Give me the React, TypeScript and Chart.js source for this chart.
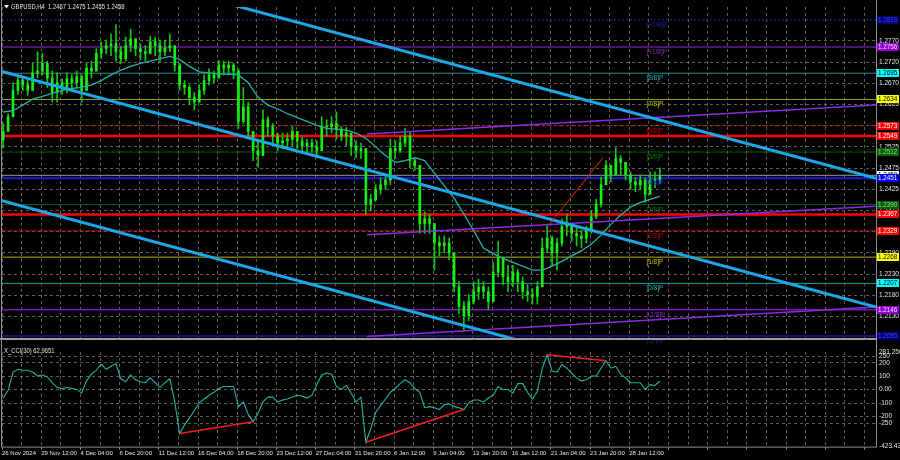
import React, { useEffect, useRef } from "react";
import { Chart, registerables } from "chart.js";

Chart.register(...registerables);

// ---------------- data ----------------
const timeLabels = ["26 Nov 2024", "29 Nov 12:00", "4 Dec 04:00", "6 Dec 20:00", "11 Dec 12:00", "16 Dec 04:00", "18 Dec 20:00", "23 Dec 12:00", "27 Dec 04:00", "31 Dec 20:00", "6 Jan 12:00", "9 Jan 04:00", "13 Jan 20:00", "16 Jan 12:00", "21 Jan 04:00", "23 Jan 20:00", "28 Jan 12:00"];

const headerText = "GBPUSD,H4  1.2467 1.2475 1.2455 1.2458";
const cciTitle = "X_CCI(30) 62.9651";

const firstOpen = 1.2540;
const closes = [1.2560, 1.2594, 1.2655, 1.2678, 1.2668, 1.2655, 1.2696, 1.2700, 1.2718, 1.2684,
  1.2650, 1.2673, 1.2662, 1.2682, 1.2673, 1.2687, 1.2655, 1.2707, 1.2700, 1.2741,
  1.2752, 1.2759, 1.2763, 1.2745, 1.2729, 1.2759, 1.2775, 1.2752, 1.2745, 1.2741,
  1.2768, 1.2759, 1.2745, 1.2754, 1.2759, 1.2714, 1.2668, 1.2662, 1.2639, 1.2628,
  1.2655, 1.2678, 1.2691, 1.2684, 1.2714, 1.2707, 1.2714, 1.2700, 1.2583, 1.2617,
  1.2560, 1.2515, 1.2504, 1.2587, 1.2571, 1.2549, 1.2533, 1.2538, 1.2542, 1.2560,
  1.2538, 1.2526, 1.2533, 1.2524, 1.2515, 1.2571, 1.2571, 1.2578, 1.2565, 1.2549,
  1.2556, 1.2526, 1.2515, 1.2520, 1.2391, 1.2402, 1.2425, 1.2436, 1.2447, 1.2520,
  1.2515, 1.2533, 1.2549, 1.2492, 1.2481, 1.2346, 1.2357, 1.2346, 1.2301, 1.2294,
  1.2301, 1.2278, 1.2199, 1.2154, 1.2132, 1.2165, 1.2188, 1.2199, 1.2188, 1.2165,
  1.2233, 1.2267, 1.2222, 1.2211, 1.2233, 1.2211, 1.2188, 1.2181, 1.2177, 1.2199,
  1.2289, 1.2312, 1.2278, 1.2301, 1.2339, 1.2346, 1.2323, 1.2317, 1.2312, 1.2330,
  1.2362, 1.2391, 1.2436, 1.2481, 1.2459, 1.2497, 1.2488, 1.2459, 1.2443, 1.2436,
  1.2447, 1.2414, 1.2447, 1.2447, 1.2458];

const highs = [1.2578, 1.2601, 1.2673, 1.2691, 1.2684, 1.2678, 1.2718, 1.2745, 1.2741, 1.2723,
  1.2700, 1.2696, 1.2682, 1.2696, 1.2691, 1.2700, 1.2691, 1.2718, 1.2723, 1.2752,
  1.2768, 1.2772, 1.2786, 1.2808, 1.2757, 1.2779, 1.2797, 1.2772, 1.2763, 1.2759,
  1.2781, 1.2779, 1.2772, 1.2772, 1.2786, 1.2759, 1.2718, 1.2678, 1.2668, 1.2650,
  1.2668, 1.2691, 1.2705, 1.2700, 1.2725, 1.2723, 1.2723, 1.2718, 1.2705, 1.2662,
  1.2628, 1.2560, 1.2538, 1.2610, 1.2594, 1.2578, 1.2556, 1.2556, 1.2556, 1.2571,
  1.2560, 1.2547, 1.2542, 1.2542, 1.2538, 1.2594, 1.2587, 1.2594, 1.2605, 1.2571,
  1.2569, 1.2542, 1.2538, 1.2533, 1.2515, 1.2414, 1.2436, 1.2452, 1.2459, 1.2542,
  1.2538, 1.2549, 1.2567, 1.2560, 1.2497, 1.2470, 1.2373, 1.2368, 1.2335, 1.2317,
  1.2317, 1.2312, 1.2278, 1.2211, 1.2165, 1.2181, 1.2211, 1.2217, 1.2211, 1.2199,
  1.2256, 1.2305, 1.2262, 1.2249, 1.2249, 1.2240, 1.2222, 1.2204, 1.2195, 1.2211,
  1.2312, 1.2341, 1.2317, 1.2312, 1.2357, 1.2368, 1.2346, 1.2335, 1.2330, 1.2339,
  1.2375, 1.2402, 1.2454, 1.2492, 1.2481, 1.2522, 1.2504, 1.2486, 1.2466, 1.2452,
  1.2459, 1.2452, 1.2466, 1.2466, 1.2475];

const lows = [1.2522, 1.2560, 1.2601, 1.2646, 1.2655, 1.2644, 1.2673, 1.2684, 1.2691, 1.2662,
  1.2628, 1.2628, 1.2646, 1.2650, 1.2655, 1.2660, 1.2628, 1.2655, 1.2684, 1.2709,
  1.2729, 1.2741, 1.2736, 1.2723, 1.2718, 1.2723, 1.2745, 1.2736, 1.2727, 1.2723,
  1.2741, 1.2736, 1.2723, 1.2736, 1.2745, 1.2700, 1.2655, 1.2646, 1.2623, 1.2610,
  1.2628, 1.2646, 1.2668, 1.2673, 1.2687, 1.2691, 1.2691, 1.2682, 1.2567, 1.2578,
  1.2549, 1.2492, 1.2477, 1.2526, 1.2549, 1.2533, 1.2515, 1.2520, 1.2524, 1.2524,
  1.2520, 1.2511, 1.2508, 1.2511, 1.2499, 1.2533, 1.2549, 1.2556, 1.2542, 1.2538,
  1.2526, 1.2504, 1.2499, 1.2497, 1.2368, 1.2375, 1.2398, 1.2414, 1.2425, 1.2436,
  1.2497, 1.2511, 1.2526, 1.2475, 1.2470, 1.2323, 1.2323, 1.2323, 1.2238, 1.2271,
  1.2278, 1.2262, 1.2188, 1.2136, 1.2098, 1.2120, 1.2159, 1.2170, 1.2172, 1.2147,
  1.2165, 1.2222, 1.2204, 1.2188, 1.2199, 1.2188, 1.2172, 1.2165, 1.2159, 1.2159,
  1.2204, 1.2278, 1.2249, 1.2238, 1.2294, 1.2317, 1.2305, 1.2294, 1.2289, 1.2301,
  1.2323, 1.2357, 1.2384, 1.2436, 1.2443, 1.2466, 1.2459, 1.2447, 1.2425, 1.2420,
  1.2425, 1.2395, 1.2418, 1.2429, 1.2438];

// moving average, one value for every second candle
const maValues = [1.2605, 1.2608, 1.2621, 1.2635, 1.2641, 1.2648, 1.2655, 1.2660, 1.2662, 1.2668,
  1.2678, 1.2691, 1.2702, 1.2711, 1.2718, 1.2723, 1.2729, 1.2734, 1.2727, 1.2711,
  1.2698, 1.2696, 1.2693, 1.2693, 1.2691, 1.2673, 1.2639, 1.2621, 1.2612, 1.2601,
  1.2592, 1.2583, 1.2574, 1.2567, 1.2565, 1.2563, 1.2556, 1.2544, 1.2524, 1.2504,
  1.2488, 1.2492, 1.2499, 1.2492, 1.2463, 1.2434, 1.2405, 1.2368, 1.2330, 1.2289,
  1.2276, 1.2265, 1.2256, 1.2247, 1.2238, 1.2238, 1.2247, 1.2258, 1.2271, 1.2283,
  1.2298, 1.2319, 1.2344, 1.2366, 1.2384, 1.2395, 1.2402, 1.2409];

const cciValues = [-62, -5, 131, 152, 145, 145, 131, 102, 109, 95,
  52, 16, 9, 16, 9, 2, -26, 66, 116, 145,
  188, 152, 174, 195, 81, 59, 109, 74, 59, 52,
  88, 52, 16, 52, 81, -91, -326, -262, -212, -155,
  -98, -69, -41, -19, 9, 24, 24, 24, -126, -91,
  -184, -238, -176, -91, -55, -55, -91, -77, -69, -55,
  -41, -48, -62, -41, 38, 109, 124, 116, 24, 2,
  31, -26, -91, -55, -391, -291, -169, -119, -69, -19,
  9, 45, 74, 52, 9, -19, -134, -126, -134, -148,
  -112, -105, -126, -134, -148, -98, -77, -77, -91, -62,
  -41, 24, 2, 2, -26, 45, 45, -19, -69, -12,
  160, 260, 138, 130, 188, 160, 124, 88, 66, 74,
  102, 102, 160, 216, 160, 174, 116, 88, 52, 52,
  52, 2, 38, 31, 62.97];

const murrayLevels = [1.2819, 1.2756, 1.2695, 1.2634, 1.2573, 1.2512, 1.2451, 1.2390, 1.2329, 1.2268, 1.2207, 1.2146, 1.2085];
const murrayNames = ["[+2/8]P", "[+1/8]P", "[8/8]P", "[7/8]P", "[6/8]P", "[5/8]P", "[4/8]P", "[3/8]P", "[2/8]P", "[1/8]P", "[0/8]P", "[-1/8]P", "[-2/8]P"];
const supportLevels = [1.2549, 1.2367];
const bidPrice = 1.2458;

const priceTickValues = [1.2770, 1.27208, 1.26715, 1.26223, 1.2573, 1.25238, 1.24746, 1.24254, 1.23762, 1.23269, 1.22777, 1.22285, 1.21792, 1.2130];
const priceTickLabels = ["1.2770", "1.2720", "1.2670", "1.2625", "1.2575", "1.2525", "1.2475", "1.2425", "1.2375", "1.2330", "1.2280", "1.2230", "1.2180", "1.2130"];
const cciTickValues = [281.2506, 250, 200, 100, 0, -100, -200, -250, -423.439];
const cciTickLabels = ["281.2506", "250", "200", "100", "0.00", "-100", "-200", "-250", "-423.439"];

// trend objects: [bar index (H4), value]
const channelUpper = [[90, 1.2860], [356.7, 1.2451]];
const channelMiddle = [[0, 1.2699], [356.7, 1.2152]];
const channelLower = [[0, 1.2399], [211.4, 1.2074]];
const regUpper = [[149, 1.2554], [356.7, 1.2621]];
const regMiddle = [[149, 1.2320], [356.7, 1.2386]];
const regLower = [[149, 1.2084], [356.7, 1.2152]];
const priceRedLine = [[223.7, 1.2346], [245.3, 1.2499]];
const cciRedLines = [
  [[72.5, -326], [102.5, -238]],
  [[148.5, -391], [188.5, -148]],
  [[222.5, 260], [246.5, 216]],
];

// ---------------- styles ----------------
const X_MAX = 356.7;
const PRICE_MIN = 1.2080;
const PRICE_MAX = 1.2849;
const CCI_MIN = -423.439;
const CCI_MAX = 281.2506;
const MURRAY_LABEL_BAR = 263;
const FONT = '"Liberation Sans", Arial, sans-serif';
const GRID = "rgba(150,150,150,0.62)";
const FRAME = "#8e8e8e";
const TEXT = "#e2e2e2";
const CANDLE = "#14f014";
const MA_COLOR = "#20b2aa";
const CHANNEL = "#1aa8e8";
const REG = "#8a2be2";

const murrayLineColor = ["#2424a8", "#6e1a96", "#129090", "#9a9a0c", "#d01010", "#0b5e0b", "#1c1cd8", "#0b5e0b", "#b01010", "#b0b000", "#17a0a0", "#7a12b4", "#1a1a96"];
const murrayLineWidth = [1, 1.5, 1, 1, 1, 1, 2, 1, 1, 1, 1, 1.5, 1.5];
const murrayLineDash = [[2, 2], [], [], [], [2, 2], [], [], [], [], [], [], [], []];
const murrayTextColor = ["#1e1ea0", "#8e22c8", "#18b2b2", "#c6c600", "#c00000", "#0d780d", "#2020e6", "#0d780d", "#c00000", "#c6c600", "#18b2b2", "#8e22c8", "#1e1ea0"];
const murrayBoxBg = ["#000080", "#9400d3", "#00ffff", "#ffff00", "#ff0000", "#006400", "#0000ff", "#006400", "#ff0000", "#ffff00", "#00ffff", "#9400d3", "#000080"];
const murrayBoxFg = ["#3a4ad0", "#f4e0ff", "#000000", "#000000", "#ffffff", "#9ad09a", "#ffffff", "#9ad09a", "#ffffff", "#000000", "#000000", "#f4e0ff", "#3a4ad0"];

function gridBars() {
  const out = [];
  for (let v = 0; v <= X_MAX; v += 8) out.push(v);
  return out;
}

function drawText(ctx, s, x, y, color, size, sx = 1, align = "left") {
  ctx.save();
  ctx.font = `${size}px ${FONT}`;
  ctx.fillStyle = color;
  ctx.textBaseline = "middle";
  ctx.textAlign = align;
  ctx.translate(x, y);
  ctx.scale(sx, 1);
  ctx.fillText(s, 0, 0);
  ctx.restore();
}

function seg(points, color, width, order, dash = []) {
  return {
    type: "line",
    data: points.map(([x, y]) => ({ x, y })),
    borderColor: color,
    borderWidth: width,
    borderDash: dash,
    pointRadius: 0,
    tension: 0,
    fill: false,
    order,
  };
}

const mainDecor = {
  id: "mainDecor",
  beforeDraw(chart) {
    const { ctx, width, height } = chart;
    ctx.save();
    ctx.fillStyle = "#000";
    ctx.fillRect(0, 0, width, height);
    ctx.restore();
  },
  afterDatasetsDraw(chart) {
    const { ctx } = chart;
    const xs = chart.scales.x;
    const ys = chart.scales.y;
    const lx = xs.getPixelForValue(MURRAY_LABEL_BAR);
    murrayLevels.forEach((lv, i) => {
      const y = ys.getPixelForValue(lv);
      drawText(ctx, murrayNames[i], lx, y + 5, murrayTextColor[i], 7, 0.92);
    });
  },
  afterDraw(chart) {
    const { ctx, chartArea } = chart;
    const ys = chart.scales.y;
    // frame
    ctx.save();
    ctx.strokeStyle = FRAME;
    ctx.lineWidth = 1;
    ctx.beginPath();
    ctx.moveTo(1.5, 0);
    ctx.lineTo(1.5, chart.height);
    ctx.moveTo(chartArea.right + 0.5, 0);
    ctx.lineTo(chartArea.right + 0.5, chart.height);
    ctx.stroke();
    ctx.lineWidth = 2;
    ctx.strokeStyle = "#9a9a9a";
    ctx.beginPath();
    ctx.moveTo(0, chartArea.bottom + 1);
    ctx.lineTo(chartArea.right + 1, chartArea.bottom + 1);
    ctx.stroke();
    ctx.restore();

    // price boxes
    const box = (val, bg, fg) => {
      const y = Math.round(ys.getPixelForValue(val));
      ctx.fillStyle = bg;
      ctx.fillRect(chartArea.right + 1, y - 4, 22, 8);
      drawText(ctx, val.toFixed(4), chartArea.right + 2, y + 0.5, fg, 7, 0.9);
    };
    murrayLevels.forEach((lv, i) => {
      if (i !== 6) box(lv, murrayBoxBg[i], murrayBoxFg[i]);
    });
    supportLevels.forEach((lv) => box(lv, "#ff0000", "#ffffff"));
    box(bidPrice, "#ffffff", "#000000");
    box(murrayLevels[6], murrayBoxBg[6], murrayBoxFg[6]);

    // header
    ctx.save();
    ctx.fillStyle = "#f0f0f0";
    ctx.beginPath();
    ctx.moveTo(4, 5);
    ctx.lineTo(9, 5);
    ctx.lineTo(6.5, 8.5);
    ctx.closePath();
    ctx.fill();
    ctx.restore();
    drawText(ctx, headerText, 11, 7, TEXT, 6.5, 0.9);
  },
};

const cciDecor = {
  id: "cciDecor",
  beforeDraw(chart) {
    const { ctx, width, height } = chart;
    ctx.save();
    ctx.fillStyle = "#000";
    ctx.fillRect(0, 0, width, height);
    ctx.restore();
  },
  afterDraw(chart) {
    const { ctx, chartArea } = chart;
    ctx.save();
    ctx.strokeStyle = FRAME;
    ctx.lineWidth = 1;
    ctx.beginPath();
    ctx.moveTo(1.5, 0);
    ctx.lineTo(1.5, chartArea.bottom + 0.5);
    ctx.lineTo(chartArea.right + 0.5, chartArea.bottom + 0.5);
    ctx.moveTo(chartArea.right + 0.5, 0);
    ctx.lineTo(chartArea.right + 0.5, chartArea.bottom + 0.5);
    ctx.stroke();
    ctx.restore();
    drawText(ctx, cciTitle, 4, 6, TEXT, 6.5, 0.9);
  },
};

function buildMain(canvas) {
  const candleX = closes.map((_, i) => 2 * i + 0.5);
  const opens = closes.map((c, i) => (i === 0 ? firstOpen : closes[i - 1]));
  const bodies = closes.map((c, i) => ({ x: candleX[i], y: [opens[i], c] }));
  const wicks = closes.map((c, i) => ({
    x: candleX[i],
    y: [Math.min(lows[i], opens[i], c), Math.max(highs[i], opens[i], c)],
  }));
  const maData = maValues.map((v, k) => ({ x: 4 * k + 0.5, y: v }));

  const levelSets = murrayLevels.map((lv, i) =>
    seg([[0, lv], [X_MAX, lv]], murrayLineColor[i], murrayLineWidth[i], 20, murrayLineDash[i])
  );
  const supportSets = supportLevels.map((lv) => seg([[0, lv], [X_MAX, lv]], "#ff0000", 2.5, 19));
  const bidSet = seg([[0, bidPrice], [X_MAX, bidPrice]], "#9a9a9a", 1, 21);

  return new Chart(canvas, {
    type: "bar",
    data: {
      datasets: [
        seg(priceRedLine, "#ff1a1a", 1, 0),
        seg(channelUpper, CHANNEL, 3, 1),
        seg(channelMiddle, CHANNEL, 3, 1),
        seg(channelLower, CHANNEL, 3, 1),
        seg(regUpper, REG, 1.5, 2),
        seg(regMiddle, REG, 1.5, 2),
        seg(regLower, REG, 1.5, 2),
        { type: "line", data: maData, borderColor: MA_COLOR, borderWidth: 1.3, pointRadius: 0, tension: 0, fill: false, order: 3 },
        { type: "bar", data: bodies, backgroundColor: CANDLE, barThickness: 2, grouped: false, minBarLength: 1, order: 4 },
        { type: "bar", data: wicks, backgroundColor: "#10c810", barThickness: 1, grouped: false, order: 5 },
        ...supportSets,
        ...levelSets,
        bidSet,
      ],
    },
    options: {
      animation: false,
      responsive: false,
      events: [],
      layout: { padding: { left: 2, top: 2, right: 0, bottom: 2 } },
      plugins: { legend: { display: false }, tooltip: { enabled: false } },
      scales: {
        x: {
          type: "linear",
          min: 0,
          max: X_MAX,
          offset: false,
          grid: { offset: false, color: GRID, lineWidth: 1, drawTicks: false },
          border: { display: false, dash: [3, 3] },
          ticks: { display: false },
          afterBuildTicks: (s) => {
            s.ticks = gridBars().map((v) => ({ value: v }));
          },
          afterFit: (s) => {
            s.height = 0;
          },
        },
        y: {
          type: "linear",
          position: "right",
          min: PRICE_MIN,
          max: PRICE_MAX,
          beginAtZero: false,
          grid: { color: GRID, lineWidth: 1, drawTicks: false },
          border: { display: false, dash: [3, 3] },
          ticks: {
            autoSkip: false,
            padding: 3,
            color: TEXT,
            font: { size: 6.5, family: FONT },
            callback: (v, i) => priceTickLabels[i] ?? "",
          },
          afterBuildTicks: (s) => {
            s.ticks = priceTickValues.map((v) => ({ value: v }));
          },
          afterFit: (s) => {
            s.width = 24;
          },
        },
      },
    },
    plugins: [mainDecor],
  });
}

function buildCci(canvas) {
  const cciData = cciValues.map((v, i) => ({ x: 2 * i + 0.5, y: v }));
  const last = cciTickValues.length - 1;
  return new Chart(canvas, {
    type: "line",
    data: {
      datasets: [
        ...cciRedLines.map((l) => seg(l, "#ff1a1a", 1.5, 0)),
        { type: "line", data: cciData, borderColor: MA_COLOR, borderWidth: 1.1, pointRadius: 0, tension: 0, fill: false, order: 1 },
      ],
    },
    options: {
      animation: false,
      responsive: false,
      events: [],
      layout: { padding: { left: 2, top: 3, right: 0, bottom: 0 } },
      plugins: { legend: { display: false }, tooltip: { enabled: false } },
      scales: {
        x: {
          type: "linear",
          min: 0,
          max: X_MAX,
          offset: false,
          grid: {
            offset: false,
            color: GRID,
            lineWidth: 1,
            drawTicks: true,
            tickLength: 3,
            tickColor: (c) => (c.index % 2 === 0 ? FRAME : "rgba(0,0,0,0)"),
          },
          border: { display: false, dash: [3, 3] },
          ticks: {
            autoSkip: false,
            maxRotation: 0,
            minRotation: 0,
            align: "start",
            padding: 0,
            color: TEXT,
            font: { size: 6, family: FONT },
            callback: (v, i) => (i % 2 === 0 ? timeLabels[i / 2] ?? "" : ""),
          },
          afterBuildTicks: (s) => {
            s.ticks = gridBars().map((v) => ({ value: v }));
          },
          afterFit: (s) => {
            s.height = 13.4;
          },
        },
        y: {
          type: "linear",
          position: "right",
          min: CCI_MIN,
          max: CCI_MAX,
          grid: {
            color: (c) => (c.index === 0 || c.index === last ? "rgba(0,0,0,0)" : GRID),
            lineWidth: 1,
            drawTicks: false,
          },
          border: { display: false, dash: [3, 3] },
          ticks: {
            autoSkip: false,
            padding: 3,
            color: TEXT,
            font: { size: 6.5, family: FONT },
            callback: (v, i) => cciTickLabels[i] ?? "",
          },
          afterBuildTicks: (s) => {
            s.ticks = cciTickValues.map((v) => ({ value: v }));
          },
          afterFit: (s) => {
            s.width = 24;
          },
        },
      },
    },
    plugins: [cciDecor],
  });
}

export default function App() {
  const mainRef = useRef(null);
  const cciRef = useRef(null);

  useEffect(() => {
    const a = buildMain(mainRef.current);
    const b = buildCci(cciRef.current);
    return () => {
      a.destroy();
      b.destroy();
    };
  }, []);

  return (
    <div style={{ position: "fixed", left: 0, top: 0, width: 900, height: 460, background: "#000", overflow: "hidden" }}>
      <canvas ref={mainRef} width={900} height={345} style={{ position: "absolute", left: 0, top: 0, width: 900, height: 345 }} />
      <canvas ref={cciRef} width={900} height={115} style={{ position: "absolute", left: 0, top: 345, width: 900, height: 115 }} />
    </div>
  );
}
